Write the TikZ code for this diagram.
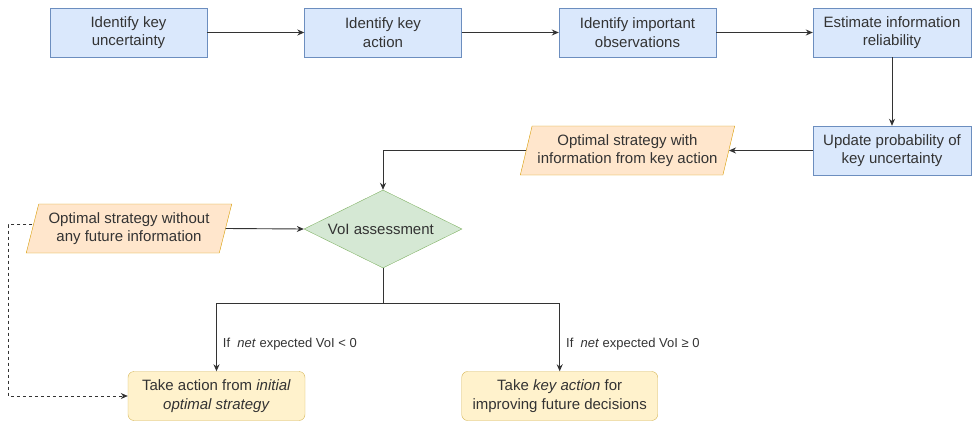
\documentclass[tikz,border=0pt]{standalone}
\usepackage{fontspec}
\setmainfont{Liberation Sans}
\usetikzlibrary{arrows.meta,shapes.geometric}
\definecolor{bluefill}{HTML}{DAE8FC}
\definecolor{bluedraw}{HTML}{6C8EBF}
\definecolor{orangefill}{HTML}{FFE6CC}
\definecolor{orangedraw}{HTML}{D79B00}
\definecolor{greenfill}{HTML}{D5E8D4}
\definecolor{greendraw}{HTML}{82B366}
\definecolor{yellowfill}{HTML}{FFF2CC}
\definecolor{yellowdraw}{HTML}{D6B656}
\definecolor{ink}{HTML}{333333}
\begin{document}
\begin{tikzpicture}[x=1pt, y=-1pt,
        every node/.style={text=ink, font=\fontsize{15}{18.3}\selectfont, align=center},
        stepbox/.style={draw=bluedraw, fill=bluefill, minimum width=157pt, minimum height=49pt, inner sep=0pt},
        inputbox/.style={trapezium, trapezium left angle=71, trapezium right angle=109, trapezium stretches=true,
            draw=orangedraw, fill=orangefill, minimum height=49pt, inner sep=0pt},
        decision/.style={diamond, aspect=2, draw=greendraw, fill=greenfill, minimum width=158pt, minimum height=78pt, inner sep=0pt},
        outcome/.style={draw=yellowdraw, fill=yellowfill, rounded corners=6pt, minimum height=49pt, inner sep=0pt},
        cond/.style={font=\fontsize{13}{15}\selectfont, inner sep=0pt},
        arr/.style={draw=ink, line width=0.9pt, -{Stealth[length=7pt,width=6pt]}},
        line/.style={draw=ink, line width=0.9pt}]
            \useasboundingbox (0,0) rectangle (975,423);

            % top row
            \node[stepbox] (uncert) at (128.5, 32.5) { Identify key\\ uncertainty };
            \node[stepbox] (action) at (383, 32.5) { Identify key\\ action };
            \node[stepbox] (observ) at (637.5, 32.5) { Identify important\\ observations };
            \node[stepbox, minimum width=158pt] (reliab) at (892, 32.5) { Estimate information\\ reliability };
            \node[stepbox, minimum width=158pt] (update) at (892, 150.5) { Update probability of\\ key uncertainty };

            % strategies and assessment
            \node[inputbox, minimum width=215pt] (withinfo) at (627.5, 150.5) { Optimal strategy with\\ information from key action };
            \node[inputbox, minimum width=206pt] (noinfo) at (129, 228.5) { Optimal strategy without\\ any future information };
            \node[decision] (voi) at (383, 229) { VoI assessment };
            \coordinate (split) at (383, 303);

            % outcomes
            \node[outcome, minimum width=177pt] (initial) at (216.5, 396) { Take action from \textit{initial}\\ \textit{optimal strategy} };
            \node[outcome, minimum width=196pt] (keyact) at (559.7, 396) { Take \textit{key action} for\\ improving future decisions };

            \draw[arr] (uncert) -- (action);
            \draw[arr] (action) -- (observ);
            \draw[arr] (observ) -- (reliab);
            \draw[arr] (reliab) -- (update);
            \draw[arr] (update) -- (withinfo.east);
            \draw[arr] (withinfo.west) -| (voi.north);
            \draw[arr] (noinfo.east) -- (voi.west);
            \draw[line] (voi.south) -- (split);
            \draw[arr] (split) -| node[cond, pos=0.8, right=6pt] { If\ \ \textit{net} expected VoI < 0 } (initial.north);
            \draw[arr] (split) -| node[cond, pos=0.8, right=6pt] { If\ \ \textit{net} expected VoI ≥ 0 } (keyact.north);
            \draw[arr, dash pattern=on 3pt off 3pt] ([yshift=4pt]noinfo.west) -- ++(-24,0) |- (initial.west);
        \end{tikzpicture}
\end{document}
